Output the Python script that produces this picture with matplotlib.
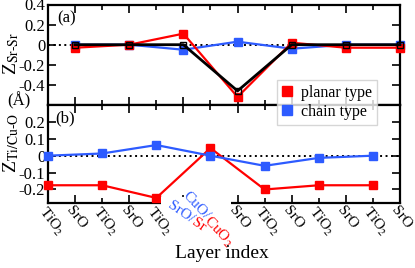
import matplotlib
matplotlib.use("Agg")
import matplotlib.pyplot as plt
import matplotlib.transforms as mtransforms
from matplotlib.font_manager import FontProperties
from matplotlib.patches import Rectangle
from matplotlib.lines import Line2D
import numpy as np

plt.rcParams['font.family'] = ['Liberation Serif', 'DejaVu Serif']
plt.rcParams['mathtext.fontset'] = 'stix'

# ---- data ----
layer_labels = ['TiO$_2$', 'SrO', 'TiO$_2$', 'SrO', 'TiO$_2$', '', '',
                'SrO', 'TiO$_2$', 'SrO', 'TiO$_2$', 'SrO', 'TiO$_2$', 'SrO']
idx_a = [1, 3, 5, 7, 9, 11, 13]
planar_a = [-0.03, 0.0, 0.11, -0.52, 0.02, -0.03, -0.03]
chain_a = [0.0, 0.0, -0.05, 0.03, -0.04, 0.0, 0.0]
ref_a = [0.0, 0.0, 0.0, -0.46, 0.0, 0.0, 0.0]
idx_b = [0, 2, 4, 6, 8, 10, 12]
planar_b = [-0.175, -0.175, -0.25, 0.045, -0.20, -0.175, -0.175]
chain_b = [0.0, 0.013, 0.063, 0.0, -0.06, -0.013, 0.0]
legend_labels = ['planar type', 'chain type']

RED = '#ff0000'
BLUE = '#2d5bff'

W, H = 415, 268
fig = plt.figure(figsize=(W / 100, H / 100), dpi=100)
L = 48 / W
Wd = (400 - 48) / W
ax_a = fig.add_axes([L, 1 - 105 / H, Wd, (105 - 4.5) / H])
ax_b = fig.add_axes([L, 1 - 203 / H, Wd, (203 - 105) / H])

fs = 12
fsl = 11
for ax in (ax_a, ax_b):
    ax.set_xlim(0, 13)
    ax.axhline(0, color='black', ls=(0, (1, 1.8)), lw=1.4, zorder=1)
    ax.set_xticks(np.arange(1, 14, 2))
    ax.set_xticks(np.arange(0, 14, 2), minor=True)
    ax.tick_params(which='both', direction='in', top=True, right=True,
                   labelsize=fs, width=1.2, pad=2)
    ax.tick_params(which='major', length=6)
    ax.tick_params(which='minor', length=3.5)
    for s in ax.spines.values():
        s.set_linewidth(1.6)

# panel a
ax_a.plot(idx_a, planar_a, color=RED, lw=1.6, marker='s', ms=6, mec=RED, zorder=3,
          clip_on=False)
ax_a.plot(idx_a, chain_a, color=BLUE, lw=1.6, marker='s', ms=6, mec=BLUE, zorder=2,
          clip_on=False)
ax_a.plot(idx_a, ref_a, color='black', lw=2.0, marker='s', ms=5, mfc='none',
          mec='black', mew=1.0, zorder=4, clip_on=False)
ax_a.set_ylim(-0.6, 0.4)
ax_a.set_yticks([-0.4, -0.2, 0, 0.2, 0.4])
ax_a.set_yticklabels(['-0.4', '-0.2', '0', '0.2', '0.4'])
ax_a.tick_params(axis='x', labelbottom=False)
ax_a.text(0.027, 0.866, '(a)', transform=ax_a.transAxes, fontsize=12, va='center')

# panel b
ax_b.plot(idx_b, planar_b, color=RED, lw=1.6, marker='s', ms=6, mec=RED, zorder=3,
          clip_on=False)
ax_b.plot(idx_b, chain_b, color=BLUE, lw=1.6, marker='s', ms=6, mec=BLUE, zorder=3,
          clip_on=False)
ax_b.set_ylim(-0.28, 0.3)
ax_b.set_yticks([-0.2, -0.1, 0, 0.1, 0.2])
ax_b.set_yticklabels(['-0.2', '-0.1', '0', '0.1', '0.2'])
ax_b.tick_params(axis='x', labelbottom=False)
ax_b.text(0.02, 0.867, '(b)', transform=ax_b.transAxes, fontsize=12, va='center')

# rotated layer labels
trans = mtransforms.blended_transform_factory(ax_b.transData, ax_b.transAxes)
for i, lab in enumerate(layer_labels):
    if lab:
        ax_b.text(i - 0.03, -0.01, lab, transform=trans, rotation=-52,
                  rotation_mode='anchor', ha='left', va='top', fontsize=fsl,
                  clip_on=False)

# white gap in the bottom spine behind the special labels
ax_b.add_patch(Rectangle((161 / W, 1 - 207 / H), (231 - 161) / W, 10 / H,
                         transform=fig.transFigure, facecolor='white',
                         edgecolor='none', zorder=5, clip_on=False))

# two-coloured special labels
fig.canvas.draw()
renderer = fig.canvas.get_renderer()
fp = FontProperties(family=['Liberation Serif'], size=fsl)


def two_colour(x, y, parts, angle):
    th = np.deg2rad(angle)
    off = 0.0
    for txt, col in parts:
        t = mtransforms.offset_copy(trans, fig=fig, x=off * np.cos(th) * 72 / 100,
                                    y=off * np.sin(th) * 72 / 100, units='points')
        ax_b.text(x, y, txt, transform=t, rotation=angle, rotation_mode='anchor',
                  ha='left', va='top', fontsize=fsl, color=col, clip_on=False,
                  zorder=6)
        w, h, d = renderer.get_text_width_height_descent(txt, fp, ismath=('$' in txt))
        off += w


two_colour(4.62, 0.04, [('SrO/', BLUE), ('Sr', RED)], -35)
two_colour(5.23, 0.14, [('CuO/', BLUE), ('CuO$_2$', RED)], -47)

# axis labels
fig.text(11 / W, 1 - 53 / H, r'Z$_{\mathrm{Sr}\text{-}\mathrm{Sr}}$', rotation=90,
         ha='center', va='center', fontsize=14)
fig.text(19 / W, 1 - 101 / H, '(Å)', ha='center', va='center', fontsize=12)
fig.text(11 / W, 1 - 143 / H, r'Z$_{\mathrm{Ti/Cu}\text{-}\mathrm{O}}$', rotation=90,
         ha='center', va='center', fontsize=14)
fig.text(222 / W, 1 - 254 / H, 'Layer index', ha='center', va='center', fontsize=14)

# legend
handles = [Line2D([], [], ls='none', marker='s', ms=7, color=RED),
           Line2D([], [], ls='none', marker='s', ms=7, color=BLUE)]
leg = fig.legend(handles, legend_labels, loc='upper left',
                 bbox_to_anchor=(277 / W, 1 - 80 / H), frameon=True, fancybox=False,
                 edgecolor='#cccccc', fontsize=11.5, handlelength=0.6,
                 handletextpad=0.6, borderpad=0.3, borderaxespad=0,
                 labelspacing=0.2)
leg.get_frame().set_linewidth(1.0)
leg.set_zorder(10)

fig.savefig('out.png', dpi=100)
